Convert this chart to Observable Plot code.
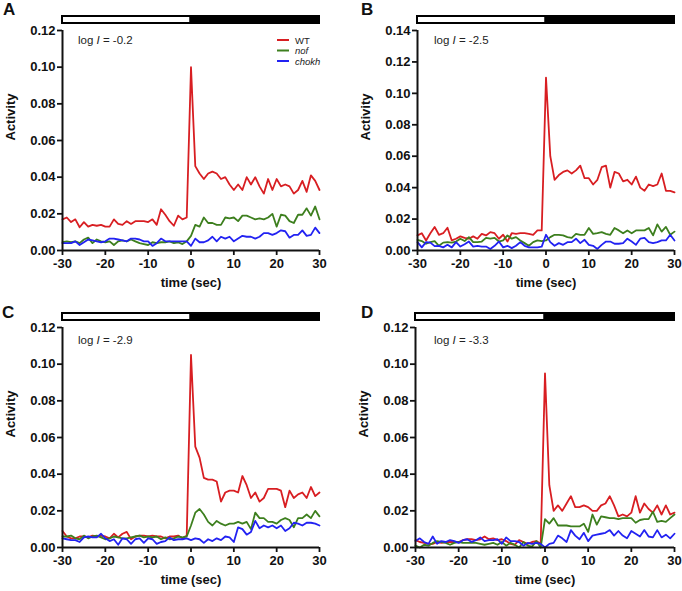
<!DOCTYPE html>
<html><head><meta charset="utf-8">
<script src="https://cdn.jsdelivr.net/npm/d3@7"></script>
<script src="https://cdn.jsdelivr.net/npm/@observablehq/plot@0.6"></script>
<style>
body{margin:0;background:#fff;}
#root{position:relative;width:682px;height:591px;overflow:hidden;font-family:"Liberation Sans",Arial,sans-serif;background:#fff;}
#root > *{position:absolute;}
</style></head><body><div id="root"></div>
<script>
// ---- data ----
const time = [-30,-29,-28,-27,-26,-25,-24,-23,-22,-21,-20,-19,-18,-17,-16,-15,-14,-13,-12,-11,-10,-9,-8,-7,-6,-5,-4,-3,-2,-1,
  0,1,2,3,4,5,6,7,8,9,10,11,12,13,14,15,16,17,18,19,20,21,22,23,24,25,26,27,28,29,30];
const series = ["WT","nof","chokh"];
const seriesColors = ["#d81e22","#3d7f1e","#2222f2"];
const xTicks = [-30,-20,-10,0,10,20,30];
const yTicks012 = [0,0.02,0.04,0.06,0.08,0.10,0.12];
const yTicks014 = [0,0.02,0.04,0.06,0.08,0.10,0.12,0.14];
const lightStart = [-30, 0];
const lightEnd = [0, 30];
const lightState = ["light", "dark"];
const panelLetters = ["A","B","C","D"];
const logIntensity = ["-0.2","-2.5","-2.9","-3.3"];

const wtA = [0.017,0.018,0.0155,0.017,0.0127,0.0155,0.013,0.014,0.0135,0.014,0.013,0.013,0.017,0.0145,0.014,0.016,0.0145,0.016,0.016,0.016,0.0155,0.017,0.014,0.0225,0.0195,0.016,0.0135,0.019,0.017,0.018,
  0.100,0.046,0.042,0.039,0.042,0.043,0.042,0.039,0.040,0.036,0.033,0.036,0.033,0.040,0.036,0.040,0.035,0.031,0.039,0.033,0.039,0.035,0.036,0.035,0.031,0.033,0.038,0.032,0.041,0.038,0.033];
const nofA = [0.0045,0.005,0.0045,0.005,0.004,0.006,0.007,0.004,0.006,0.005,0.0045,0.005,0.003,0.005,0.0055,0.005,0.006,0.005,0.004,0.0035,0.003,0.0045,0.004,0.0045,0.0045,0.005,0.004,0.0045,0.0035,0.005,
  0.008,0.014,0.013,0.018,0.015,0.015,0.014,0.014,0.018,0.0175,0.018,0.016,0.019,0.019,0.018,0.017,0.0175,0.017,0.018,0.020,0.013,0.0195,0.019,0.016,0.015,0.0195,0.0195,0.023,0.019,0.024,0.017];
const chokhA = [0.004,0.004,0.004,0.005,0.003,0.0045,0.006,0.0055,0.005,0.0045,0.005,0.0065,0.0065,0.006,0.0055,0.005,0.0065,0.0065,0.006,0.005,0.005,0.0025,0.004,0.0065,0.005,0.005,0.005,0.005,0.005,0.005,
  0.0025,0.0065,0.0045,0.0045,0.0055,0.0075,0.005,0.0075,0.0065,0.0075,0.005,0.0065,0.008,0.0075,0.0075,0.0065,0.0075,0.0095,0.0095,0.0085,0.0095,0.011,0.0105,0.007,0.0085,0.0085,0.011,0.008,0.0085,0.0125,0.0095];

const wtB = [0.0096,0.011,0.0064,0.011,0.015,0.010,0.011,0.0145,0.0064,0.0075,0.009,0.008,0.0075,0.009,0.0075,0.0106,0.0096,0.0117,0.011,0.0075,0.010,0.0057,0.011,0.0106,0.011,0.011,0.0106,0.010,0.0128,0.0128,
  0.110,0.060,0.045,0.048,0.050,0.051,0.049,0.051,0.054,0.046,0.046,0.042,0.045,0.053,0.054,0.040,0.050,0.049,0.044,0.045,0.042,0.047,0.040,0.038,0.042,0.041,0.042,0.049,0.038,0.038,0.037];
const nofB = [0.0068,0.006,0.0043,0.0053,0.006,0.003,0.005,0.0053,0.005,0.0057,0.0075,0.006,0.0085,0.0053,0.0053,0.0057,0.008,0.0075,0.008,0.0057,0.0064,0.0096,0.0075,0.0085,0.0064,0.0047,0.003,0.0053,0.0064,0.006,
  0.0064,0.0085,0.010,0.010,0.0096,0.0085,0.008,0.0106,0.010,0.010,0.0143,0.0106,0.011,0.0117,0.0106,0.010,0.0143,0.0128,0.011,0.0128,0.011,0.0128,0.0128,0.0128,0.0143,0.0096,0.0166,0.012,0.015,0.010,0.012];
const chokhB = [0.0053,0.002,0.0053,0.005,0.0028,0.003,0.002,0.0036,0.002,0.0053,0.0025,0.004,0.0057,0.0025,0.003,0.0025,0.0025,0.001,0.003,0.0057,0.002,0.003,0.0015,0.003,0.0053,0.003,0.002,0.002,0.002,0.0025,
  0.010,0.0053,0.003,0.0047,0.0036,0.0053,0.0053,0.0075,0.0047,0.0068,0.0036,0.003,0.001,0.0036,0.0057,0.0057,0.0043,0.0043,0.0047,0.0075,0.0057,0.0036,0.0075,0.008,0.0053,0.0047,0.0053,0.0064,0.0064,0.010,0.0064];

const wtC = [0.009,0.006,0.005,0.005,0.006,0.006,0.0055,0.0065,0.006,0.0065,0.006,0.005,0.0075,0.0055,0.0075,0.0085,0.0045,0.006,0.0065,0.0065,0.006,0.0065,0.006,0.006,0.005,0.006,0.006,0.0065,0.005,0.0065,
  0.105,0.055,0.049,0.038,0.037,0.037,0.036,0.025,0.030,0.031,0.031,0.030,0.039,0.034,0.027,0.030,0.025,0.027,0.032,0.032,0.032,0.031,0.022,0.031,0.027,0.029,0.030,0.027,0.033,0.028,0.030];
const nofC = [0.006,0.006,0.0065,0.005,0.0045,0.0065,0.005,0.006,0.0065,0.0055,0.0045,0.005,0.006,0.0055,0.005,0.005,0.0055,0.006,0.0065,0.0055,0.006,0.0055,0.006,0.0045,0.0055,0.0045,0.005,0.006,0.0055,0.006,
  0.012,0.019,0.021,0.018,0.014,0.012,0.0145,0.013,0.012,0.013,0.013,0.014,0.013,0.014,0.010,0.019,0.016,0.016,0.014,0.014,0.013,0.015,0.016,0.015,0.011,0.016,0.016,0.018,0.016,0.020,0.017];
const chokhC = [0.005,0.0045,0.004,0.004,0.003,0.0055,0.006,0.0055,0.0055,0.0075,0.005,0.0035,0.0045,0.0015,0.005,0.0045,0.002,0.0045,0.005,0.0025,0.005,0.0045,0.002,0.003,0.0035,0.0055,0.004,0.0045,0.0045,0.005,
  0.004,0.005,0.0045,0.0025,0.0045,0.0035,0.005,0.004,0.006,0.0055,0.003,0.011,0.010,0.007,0.0085,0.0145,0.0105,0.012,0.011,0.012,0.0105,0.012,0.009,0.0105,0.0135,0.013,0.012,0.0135,0.0135,0.013,0.012];

const wtD = [0.004,0.003,0.0025,0.002,0.002,0.003,0.0025,0.003,0.003,0.003,0.003,0.004,0.0045,0.0045,0.004,0.0045,0.006,0.0045,0.005,0.004,0.0045,0.0035,0.002,0.0015,0.004,0.003,0.002,0.003,0.0035,0.002,
  0.095,0.034,0.020,0.023,0.020,0.024,0.028,0.022,0.022,0.023,0.022,0.020,0.020,0.023,0.024,0.028,0.023,0.017,0.018,0.017,0.019,0.028,0.019,0.024,0.021,0.019,0.023,0.018,0.023,0.018,0.019];
const nofD = [0.001,0.0,0.0015,0.001,0.0025,0.0035,0.003,0.0025,0.0015,0.0025,0.003,0.0025,0.0025,0.0025,0.0025,0.002,0.0015,0.002,0.0025,0.0015,0.003,0.001,0.0025,0.0015,0.0,0.003,0.001,0.0005,0.0035,0.0,
  0.0155,0.013,0.016,0.012,0.012,0.012,0.0115,0.0115,0.0115,0.013,0.0085,0.018,0.0125,0.017,0.0165,0.016,0.016,0.0155,0.016,0.016,0.016,0.0135,0.015,0.0155,0.0155,0.0195,0.014,0.0145,0.014,0.016,0.018];
const chokhD = [0.0035,0.005,0.003,0.002,0.006,0.002,0.0035,0.003,0.004,0.0035,0.0025,0.004,0.0045,0.003,0.004,0.0055,0.0035,0.004,0.004,0.0045,0.002,0.0055,0.0035,0.0035,0.003,0.001,0.0025,0.002,0.0025,0.002,
  0.0,0.002,0.0025,0.0065,0.005,0.003,0.0095,0.0065,0.0045,0.008,0.0035,0.0065,0.007,0.0075,0.008,0.0095,0.0065,0.009,0.0065,0.005,0.009,0.0075,0.006,0.0095,0.006,0.0055,0.0095,0.0055,0.007,0.005,0.0075];

// ---- layout ----
const FONT = '"Liberation Sans", Arial, Helvetica, sans-serif';
const panels = [
  {left:0,   top:0,   ml:62, mr:22, yTicks:yTicks012, data:[wtA,nofA,chokhA], letterX:3,   letterY:15,  textX:78,  textY:44,  legend:true},
  {left:341, top:0,   ml:76, mr:8,  yTicks:yTicks014, data:[wtB,nofB,chokhB], letterX:361, letterY:15,  textX:434, textY:44},
  {left:0,   top:297, ml:62, mr:22, yTicks:yTicks012, data:[wtC,nofC,chokhC], letterX:2,   letterY:318, textX:78,  textY:344},
  {left:341, top:297, ml:74, mr:8,  yTicks:yTicks012, data:[wtD,nofD,chokhD], letterX:361, letterY:318, textX:434, textY:344}
];

const root = document.getElementById("root");

panels.forEach((p, pi) => {
  const yMax = p.yTicks[p.yTicks.length - 1];
  const rows = [];
  p.data.forEach((arr, si) => arr.forEach((v, i) => rows.push({t: time[i], v, series: series[si]})));

  const main = Plot.plot({
    width: 341, height: 295,
    marginLeft: p.ml, marginRight: p.mr, marginTop: 30, marginBottom: 45,
    x: {domain: [-30, 30]},
    y: {domain: [0, yMax]},
    color: {domain: series, range: seriesColors},
    style: {fontFamily: FONT, fontSize: "13px", fontWeight: "bold", color: "#111", background: "transparent", overflow: "visible"},
    marks: [
      Plot.axisX({ticks: xTicks, tickSize: 5, tickPadding: 3, strokeWidth: 1.8, tickFormat: d => String(d), label: null}),
      Plot.axisY({ticks: p.yTicks, tickSize: 5, tickPadding: 2, strokeWidth: 1.8, tickFormat: d3.format(".2f"), label: null}),
      Plot.line(rows, {x: "t", y: "v", stroke: "series", z: "series", strokeWidth: 1.8}),
      Plot.ruleY([0], {x1: -30, x2: 30, strokeWidth: 2, stroke: "#111"}),
      Plot.ruleX([-30], {y1: 0, y2: yMax, strokeWidth: 2, stroke: "#111"}),
      Plot.text(["time (sec)"], {text: d => d, frameAnchor: "bottom", dy: 36}),
      Plot.text(["Activity"], {text: d => d, frameAnchor: "left", dx: -52, rotate: -90})
    ]
  });
  main.style.left = p.left + "px";
  main.style.top = p.top + "px";
  root.appendChild(main);

  const bar = Plot.plot({
    width: 341, height: 7,
    marginLeft: p.ml, marginRight: p.mr, marginTop: 0, marginBottom: 0,
    x: {domain: [-30, 30], axis: null},
    style: {background: "transparent", overflow: "visible"},
    marks: [
      Plot.rect(lightStart.map((s, i) => i), {
        x1: i => lightStart[i], x2: i => lightEnd[i],
        fill: i => lightState[i] === "light" ? "white" : "black",
        stroke: "black", strokeWidth: 2
      })
    ]
  });
  bar.style.left = p.left + "px";
  bar.style.top = (p.top + 16) + "px";
  root.appendChild(bar);
});

// ---- annotation overlay (letters, light level, legend) ----
const svg = d3.select(root).append("svg")
  .attr("width", 682).attr("height", 591)
  .style("left", "0px").style("top", "0px").style("pointer-events", "none")
  .style("font-family", FONT);

panels.forEach((p, pi) => {
  svg.append("text").attr("x", p.letterX).attr("y", p.letterY)
    .attr("font-size", 17).attr("font-weight", "bold").attr("fill", "#111").text(panelLetters[pi]);
  const t = svg.append("text").attr("x", p.textX).attr("y", p.textY)
    .attr("font-size", 11.5).attr("fill", "#222");
  t.append("tspan").text("log ");
  t.append("tspan").attr("font-style", "italic").text("I");
  t.append("tspan").text(" = " + logIntensity[pi]);

  if (p.legend) {
    const ly = [40, 50.5, 61];
    series.forEach((s, si) => {
      svg.append("line").attr("x1", 277).attr("x2", 289).attr("y1", ly[si]).attr("y2", ly[si])
        .attr("stroke", seriesColors[si]).attr("stroke-width", 2);
      svg.append("text").attr("x", 295).attr("y", ly[si] + 3.5).attr("font-size", 9.5)
        .attr("fill", "#222").attr("font-style", si === 0 ? "normal" : "italic").text(s);
    });
  }
});
</script>
</body></html>
